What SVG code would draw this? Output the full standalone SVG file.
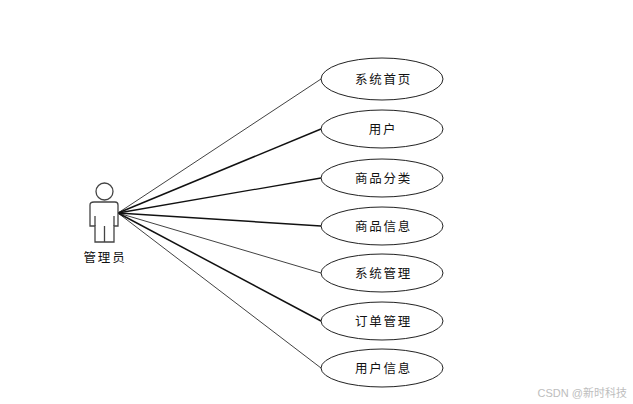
<svg xmlns="http://www.w3.org/2000/svg" width="633" height="404" viewBox="0 0 633 404">
<style>
.u{fill:#fff;stroke:#222;stroke-width:1}
.t{font-family:"Noto Sans CJK SC","Liberation Sans",sans-serif;font-size:12.500px;letter-spacing:1.800px;fill:#111;text-anchor:middle}
.c{stroke:#111;fill:none}
.a{fill:#fff;stroke:#444;stroke-width:1.300}
</style>
<rect width="633" height="404" fill="#fff"/>
<g id="connectors">
<line class="c" x1="118" y1="213" x2="321" y2="79" stroke-width="0.800"/>
<line class="c" x1="118" y1="213" x2="321" y2="129" stroke-width="1.500"/>
<line class="c" x1="118" y1="213" x2="321" y2="178" stroke-width="1.300"/>
<line class="c" x1="118" y1="213" x2="321" y2="226" stroke-width="1.500"/>
<line class="c" x1="118" y1="213" x2="321" y2="273" stroke-width="0.800"/>
<line class="c" x1="118" y1="213" x2="321" y2="321" stroke-width="1.500"/>
<line class="c" x1="118" y1="213" x2="321" y2="368" stroke-width="0.800"/>
</g>
<g id="actor">
<circle class="a" cx="104.500" cy="191.500" r="8.500"/>
<path class="a" d="M94 202H115Q118 202 118 205V226H114V242H95V226H90V205Q90 202 94 202Z"/>
<path class="a" d="M95 216V226M114 216V226M104.500 226V242" fill="none"/>
<text class="t" x="105" y="262">管理员</text>
</g>
<g id="n1"><ellipse class="u" cx="382" cy="79" rx="61" ry="21"/><text class="t" x="383.500" y="84">系统首页</text></g>
<g id="n2"><ellipse class="u" cx="382" cy="129" rx="61" ry="19"/><text class="t" x="383" y="134">用户</text></g>
<g id="n3"><ellipse class="u" cx="382" cy="178" rx="61" ry="19"/><text class="t" x="383.500" y="183">商品分类</text></g>
<g id="n4"><ellipse class="u" cx="382" cy="226" rx="61" ry="19"/><text class="t" x="383.500" y="231">商品信息</text></g>
<g id="n5"><ellipse class="u" cx="382" cy="273" rx="61" ry="19"/><text class="t" x="383.500" y="278">系统管理</text></g>
<g id="n6"><ellipse class="u" cx="382" cy="321" rx="61" ry="19"/><text class="t" x="383.500" y="326">订单管理</text></g>
<g id="n7"><ellipse class="u" cx="382" cy="368" rx="61" ry="19"/><text class="t" x="383.500" y="373">用户信息</text></g>
<text x="627" y="397" text-anchor="end" font-family="'Liberation Sans','Noto Sans CJK SC',sans-serif" font-size="11" fill="#bdbdbd">CSDN @新时科技</text>
</svg>
